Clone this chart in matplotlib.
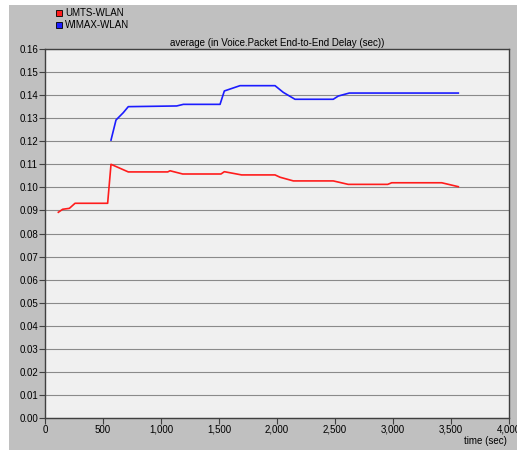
import matplotlib
matplotlib.use("Agg")
import matplotlib.pyplot as plt
from matplotlib.patches import Rectangle
from matplotlib.ticker import FuncFormatter

# values (time in sec, delay in sec)
umts_t = [115, 152, 210, 259, 540, 569, 718, 1058, 1078, 1187, 1517, 1546, 1695,
          1983, 2026, 2141, 2485, 2614, 2954, 2989, 3420, 3563]
umts_v = [0.0892, 0.0905, 0.0909, 0.0931, 0.0931, 0.1100, 0.1067, 0.1067, 0.1072,
          0.1058, 0.1058, 0.1068, 0.1054, 0.1054, 0.1044, 0.1028, 0.1028, 0.1013,
          0.1013, 0.1020, 0.1020, 0.1003]

wimax_t = [569, 612, 675, 718, 1135, 1193, 1509, 1546, 1681, 1983, 2054, 2155,
           2485, 2528, 2623, 3563]
wimax_v = [0.1205, 0.1292, 0.1324, 0.1350, 0.1353, 0.1360, 0.1360, 0.1418, 0.1441,
           0.1441, 0.1412, 0.1382, 0.1382, 0.1396, 0.1409, 0.1409]

series_names = ["UMTS-WLAN", "WIMAX-WLAN"]
series_colors = ["#ff1c1c", "#1c1cff"]
title = "average (in Voice.Packet End-to-End Delay (sec))"

plt.rcParams['font.family'] = ['Liberation Sans', 'DejaVu Sans']
plt.rcParams['font.size'] = 7

W, H = 517, 450
fig = plt.figure(figsize=(W / 100, H / 100), dpi=100)
fig.patch.set_facecolor("white")
fig.patches.append(Rectangle((9 / W, 0), 1 - 9 / W, 1 - 5 / H, transform=fig.transFigure,
                             facecolor="#c0c0c0", edgecolor="none", zorder=-5))

ax = fig.add_axes([45 / W, 1 - 418 / H, (509 - 45) / W, (418 - 49) / H])
ax.set_facecolor("#f0f0f0")

ax.plot(umts_t, umts_v, color=series_colors[0], lw=1.2)
ax.plot(wimax_t, wimax_v, color=series_colors[1], lw=1.2)

ax.set_xlim(0, 4000)
ax.set_ylim(0, 0.16)
ax.set_xticks(range(0, 4001, 500))
ax.set_yticks([i / 100 for i in range(17)])
ax.xaxis.set_major_formatter(FuncFormatter(lambda v, p: f"{int(v):,}"))
ax.yaxis.set_major_formatter(FuncFormatter(lambda v, p: f"{v:.2f}"))
ax.grid(axis="y", color="#8a8a8a", lw=0.8)
ax.set_axisbelow(True)
ax.tick_params(direction="out", length=4, width=0.8, color="#404040", labelsize=7, pad=1)
for s in ax.spines.values():
    s.set_color("#404040")
    s.set_linewidth(1.0)

ax.set_title(title, fontsize=7, pad=2)
fig.text(507 / W, 1 - 441 / H, "time (sec)", ha="right", va="center", fontsize=7)

# legend drawn at the top-left, like the reference
for i, (name, col) in enumerate(zip(series_names, series_colors)):
    y = 10 + 12 * i
    fig.patches.append(Rectangle((56 / W, 1 - (y + 6) / H), 6 / W, 6 / H,
                                 transform=fig.transFigure, facecolor=col,
                                 edgecolor="black", lw=0.6, zorder=3))
    fig.text(65 / W, 1 - (y + 3) / H, name, ha="left", va="center", fontsize=7)

fig.savefig("out.png", dpi=100)
